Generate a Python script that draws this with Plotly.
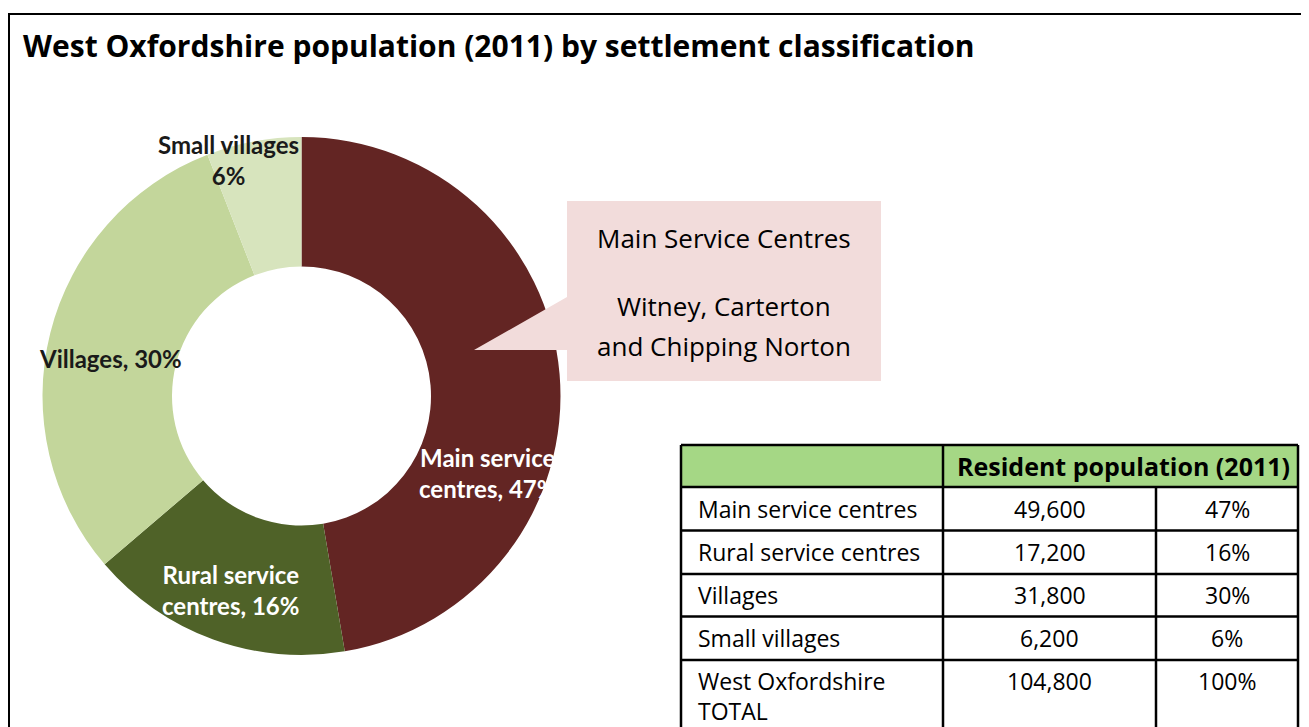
"""West Oxfordshire settlement classification donut, with callout and summary table."""
import plotly.graph_objects as go

W, H = 1309, 727
OFF = 8  # page body margin of the html output
FW, FH = W - OFF, H - OFF

# data
categories = ["Main service centres", "Rural service centres", "Villages", "Small villages"]
population = [49600, 17200, 31800, 6200]
shares = [47, 16, 30, 6]
slice_labels = [
    "Main service<br>centres, 47%",
    "Rural service<br>centres, 16%",
    "Villages, 30%",
    "Small villages<br>6%",
]
colors = ["#632523", "#4F6228", "#C3D69B", "#D7E4BD"]
total_label = "West Oxfordshire<br>TOTAL"
header_label = "Resident population (2011)"
callout_title = "Main Service Centres"
callout_lines = ["Witney, Carterton", "and Chipping Norton"]

SANS = "'Open Sans', Lato, sans-serif"
LABEL_FONT = "Lato, 'Open Sans', sans-serif"


def px(x, y):
    # page pixel position -> paper coordinates (margins are zero)
    return (x - OFF) / FW, 1 - (y - OFF) / FH


def note(x, y, text, font, xanchor="center", yanchor="middle", align="center"):
    a, b = px(x, y)
    return dict(x=a, y=b, xref="paper", yref="paper", text=text, showarrow=False,
                xanchor=xanchor, yanchor=yanchor, align=align, font=font)


# donut placement
cx, cy, r = 301.5, 396, 259
x0, y0 = px(cx - r, cy + r)
x1, y1 = px(cx + r, cy - r)

fig = go.Figure(
    go.Pie(
        labels=categories,
        values=population,
        sort=False,
        direction="clockwise",
        rotation=0,
        hole=0.5,
        marker=dict(colors=colors, line=dict(width=0)),
        textinfo="none",
        hoverinfo="label+value+percent",
        domain=dict(x=[x0, x1], y=[y0, y1]),
        showlegend=False,
    )
)

shapes = []
annotations = []

# outer frame (left and top rules)
fx0, fy0 = px(9, 14)
fx1, fy1 = px(W + 10, H + 10)
shapes.append(dict(type="rect", xref="paper", yref="paper", x0=fx0, y0=fy1, x1=fx1, y1=fy0,
                   line=dict(color="black", width=2), layer="above"))

# title
annotations.append(note(21, 45, "<b>West Oxfordshire population (2011) by settlement classification</b>",
                        dict(family=SANS, size=30, color="black"), xanchor="left"))

# slice labels
label_pos = [(487, 473), (230, 590), (110, 358), (228, 160)]
label_col = ["white", "white", "#1a1a1a", "#1a1a1a"]
for txt, (lx, ly), col in zip(slice_labels, label_pos, label_col):
    annotations.append(note(lx, ly, f"<b>{txt}</b>", dict(family=LABEL_FONT, size=24, color=col)))

# callout box with pointer
pts = [(567, 201), (881, 201), (881, 381), (567, 381), (567, 350), (474, 350), (567, 297)]
path = "M " + " L ".join(f"{px(a, b)[0]:.5f},{px(a, b)[1]:.5f}" for a, b in pts) + " Z"
shapes.append(dict(type="path", xref="paper", yref="paper", path=path,
                   fillcolor="#F2DCDB", line=dict(width=0), layer="above"))
box_font = dict(family=SANS, size=26, color="black")
annotations.append(note(724, 238, callout_title, box_font))
for line, ly in zip(callout_lines, [306, 346]):
    annotations.append(note(724, ly, line, box_font))

# table
col_x = [681, 943, 1156, 1298]
row_y = [445, 487, 530.5, 574, 616.5, 660, 740]

hx0, hy0 = px(col_x[0], row_y[0])
hx1, hy1 = px(col_x[-1], row_y[1])
shapes.append(dict(type="rect", xref="paper", yref="paper", x0=hx0, y0=hy1, x1=hx1, y1=hy0,
                   fillcolor="#A5D785", line=dict(width=0), layer="above"))

line_style = dict(color="black", width=2.5)
for yy in row_y[:-1]:
    a, b = px(col_x[0], yy)
    c, _ = px(col_x[-1], yy)
    shapes.append(dict(type="line", xref="paper", yref="paper", x0=a, y0=b, x1=c, y1=b,
                       line=line_style, layer="above"))
for i, xx in enumerate(col_x):
    top = row_y[1] if i == 2 else row_y[0]
    a, b = px(xx, top)
    _, d = px(xx, row_y[-1])
    shapes.append(dict(type="line", xref="paper", yref="paper", x0=a, y0=b, x1=a, y1=d,
                       line=line_style, layer="above"))

annotations.append(note((col_x[1] + col_x[3]) / 2 + 3, (row_y[0] + row_y[1]) / 2,
                        f"<b>{header_label}</b>", dict(family=SANS, size=25, color="black")))

cell_font = dict(family=SANS, size=23, color="black")
rows = list(zip(categories, population, shares))
rows.append((total_label, sum(population), 100))
for k, (name, pop, share) in enumerate(rows):
    top, bot = row_y[k + 1], row_y[k + 2]
    if k == len(categories):
        name_y, num_y = 696, 681
    else:
        name_y = num_y = (top + bot) / 2
    annotations.append(note(col_x[0] + 15, name_y, name, cell_font, xanchor="left", align="left"))
    annotations.append(note((col_x[1] + col_x[2]) / 2, num_y, f"{pop:,}", cell_font))
    annotations.append(note((col_x[2] + col_x[3]) / 2, num_y, f"{share}%", cell_font))

fig.update_layout(
    width=FW,
    height=FH,
    margin=dict(l=0, r=0, t=0, b=0),
    paper_bgcolor="white",
    plot_bgcolor="white",
    shapes=shapes,
    annotations=annotations,
)

fig.write_html("out.html")
